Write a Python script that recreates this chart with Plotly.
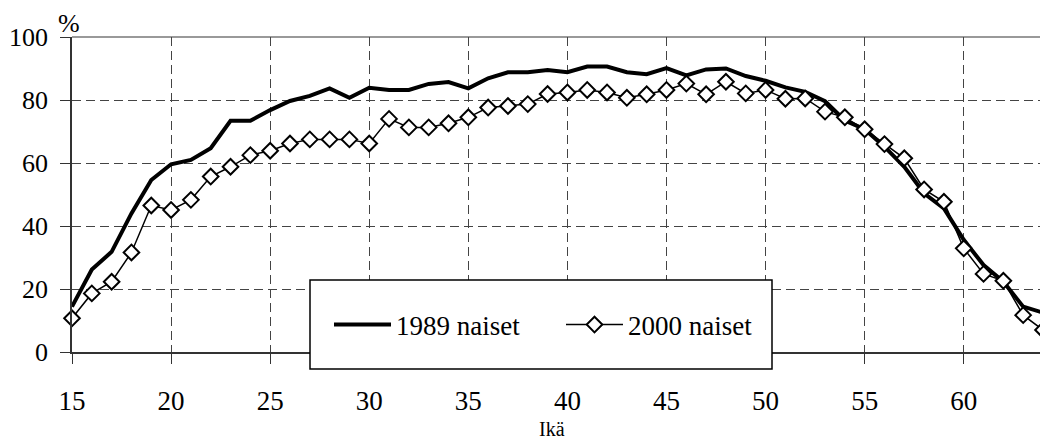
import plotly.graph_objects as go

ika = list(range(15, 65))

naiset_1989 = [14.4, 26.2, 31.8, 44.0, 54.6, 59.6, 61.0, 64.7, 73.4, 73.4,
               76.8, 79.7, 81.3, 83.7, 80.7, 83.9, 83.2, 83.2, 85.1, 85.7,
               83.7, 86.9, 88.8, 88.8, 89.5, 88.8, 90.6, 90.6, 88.8, 88.2,
               90.1, 87.8, 89.7, 90.0, 87.6, 86.1, 84.0, 82.6, 79.6, 73.5,
               70.7, 65.2, 58.8, 50.4, 45.6, 35.6, 27.6, 22.3, 14.4, 12.5]

naiset_2000 = [10.7, 18.6, 22.3, 31.6, 46.5, 45.1, 48.3, 55.7, 58.8, 62.5,
               63.9, 66.2, 67.5, 67.5, 67.5, 66.2, 74.0, 71.3, 71.3, 72.6,
               74.5, 77.6, 78.1, 78.7, 81.9, 82.4, 83.2, 82.4, 80.7, 81.8,
               83.2, 85.2, 81.8, 85.8, 82.1, 83.2, 80.4, 80.5, 76.3, 74.5,
               70.7, 66.0, 61.5, 51.6, 47.7, 32.9, 24.8, 22.6, 11.7, 7.0]

fontti = "Liberation Serif"

# page body has an 8px margin, plot area is 971 x 315 px
fig = go.Figure()

fig.add_trace(go.Scatter(
    x=ika, y=naiset_1989, name="1989 naiset", mode="lines",
    line=dict(color="black", width=4),
    cliponaxis=False
))

fig.add_trace(go.Scatter(
    x=ika, y=naiset_2000, name="2000 naiset", mode="lines+markers",
    line=dict(color="black", width=1.5),
    marker=dict(symbol="diamond", size=12, color="white",
                line=dict(color="black", width=2)),
    cliponaxis=False
))

# legend box drawn as a shape so it can be taller than plotly's own box
fig.add_shape(type="rect", xref="paper", yref="paper",
              x0=(310 - 72) / 971, x1=(772 - 72) / 971,
              y0=(352 - 369) / 315, y1=(352 - 280) / 315,
              fillcolor="white", line=dict(color="black", width=1.5),
              layer="above")

# grey border on top and right
fig.add_shape(type="line", xref="paper", yref="paper", x0=0, x1=1, y0=1, y1=1,
              line=dict(color="#999999", width=2), layer="below")
fig.add_shape(type="line", xref="paper", yref="paper", x0=1, x1=1, y0=0, y1=1,
              line=dict(color="#999999", width=2), layer="below")

fig.add_annotation(text="%", xref="paper", yref="paper",
                   x=(69 - 72) / 971, y=(352 - 24) / 315,
                   xanchor="center", yanchor="middle",
                   showarrow=False, font=dict(size=26, color="black", family=fontti))
fig.add_annotation(text="Ikä", xref="paper", yref="paper",
                   x=(552 - 72) / 971, y=(352 - 429) / 315,
                   xanchor="center", yanchor="middle",
                   showarrow=False, font=dict(size=20, color="black", family=fontti))

fig.update_layout(
    width=1040, height=434,
    margin=dict(l=64, r=5, t=29, b=90, autoexpand=False),
    plot_bgcolor="white", paper_bgcolor="white",
    font=dict(family=fontti, size=27, color="black"),
    showlegend=True,
    legend=dict(orientation="h", x=(329 - 72) / 971, xanchor="left",
                y=(352 - 325) / 315, yanchor="middle",
                bgcolor="rgba(0,0,0,0)", borderwidth=0,
                itemwidth=57, entrywidth=160,
                font=dict(size=27, family=fontti, color="black")),
)

fig.update_xaxes(
    range=[15, 64], tick0=15, dtick=5, automargin=False,
    showline=True, linecolor="#333333", linewidth=1.5,
    ticks="outside", ticklen=10, tickcolor="#333333",
    ticklabelstandoff=14,
    tickfont=dict(family=fontti, size=27, color="black"),
    showgrid=True, gridcolor="#444444", gridwidth=1, griddash="9px,5px",
    zeroline=False
)

fig.update_yaxes(
    range=[0, 100], tick0=0, dtick=20, automargin=False,
    showline=True, linecolor="#333333", linewidth=1.5,
    ticks="outside", ticklen=10, tickcolor="#333333",
    ticklabelstandoff=7,
    tickfont=dict(family=fontti, size=26, color="black"),
    showgrid=True, gridcolor="#444444", gridwidth=1, griddash="9px,5px",
    zeroline=False
)

fig.write_html("out.html")
